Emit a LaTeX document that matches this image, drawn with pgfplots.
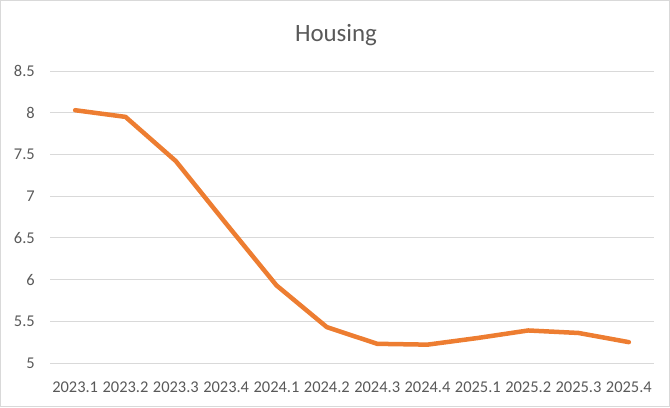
\documentclass[border=0pt]{standalone}
\usepackage{fontspec}
\setmainfont{Carlito}
\usepackage{pgfplots}
\pgfplotsset{compat=1.18}
\definecolor{housing}{HTML}{ED7D31}
\definecolor{txt}{HTML}{595959}
\definecolor{gridc}{HTML}{D9D9D9}
\begin{document}
\begin{tikzpicture}[x=1bp,y=1bp]
\draw[color=gridc, line width=1.2bp] (0.6,0.6) rectangle (669.4,406.4);
\node[text=txt, font=\fontsize{25}{30}\selectfont, anchor=base, inner sep=0pt] at (336,366) {Housing};
\begin{axis}[
  at={(50bp,44bp)}, anchor=south west,
  scale only axis, width=604bp, height=292bp,
  xmin=-0.5, xmax=11.5, ymin=5, ymax=8.5,
  xtick={0,...,11},
  xticklabels={2023.1,2023.2,2023.3,2023.4,2024.1,2024.2,2024.3,2024.4,2025.1,2025.2,2025.3,2025.4},
  ytick={5,5.5,6,6.5,7,7.5,8,8.5},
  yticklabels={5,5.5,6,6.5,7,7.5,8,8.5},
  axis line style={draw=none},
  major tick style={draw=none},
  ymajorgrids,
  grid style={color=gridc, line width=1bp},
  ticklabel style={text=txt, font=\fontsize{16.5}{19}\selectfont, inner sep=0pt},
  xticklabel shift=19bp,
  yticklabel shift=15bp,
  /pgf/number format/assume math mode=true,
  clip=false,
]
\addplot[color=housing, line width=4.5bp, line join=round, line cap=round] coordinates {
(0,8.03) (1,7.95) (2,7.42) (3,6.67) (4,5.93) (5,5.43) (6,5.23) (7,5.22) (8,5.30) (9,5.39) (10,5.36) (11,5.25)
};
\end{axis}
\end{tikzpicture}
\end{document}
